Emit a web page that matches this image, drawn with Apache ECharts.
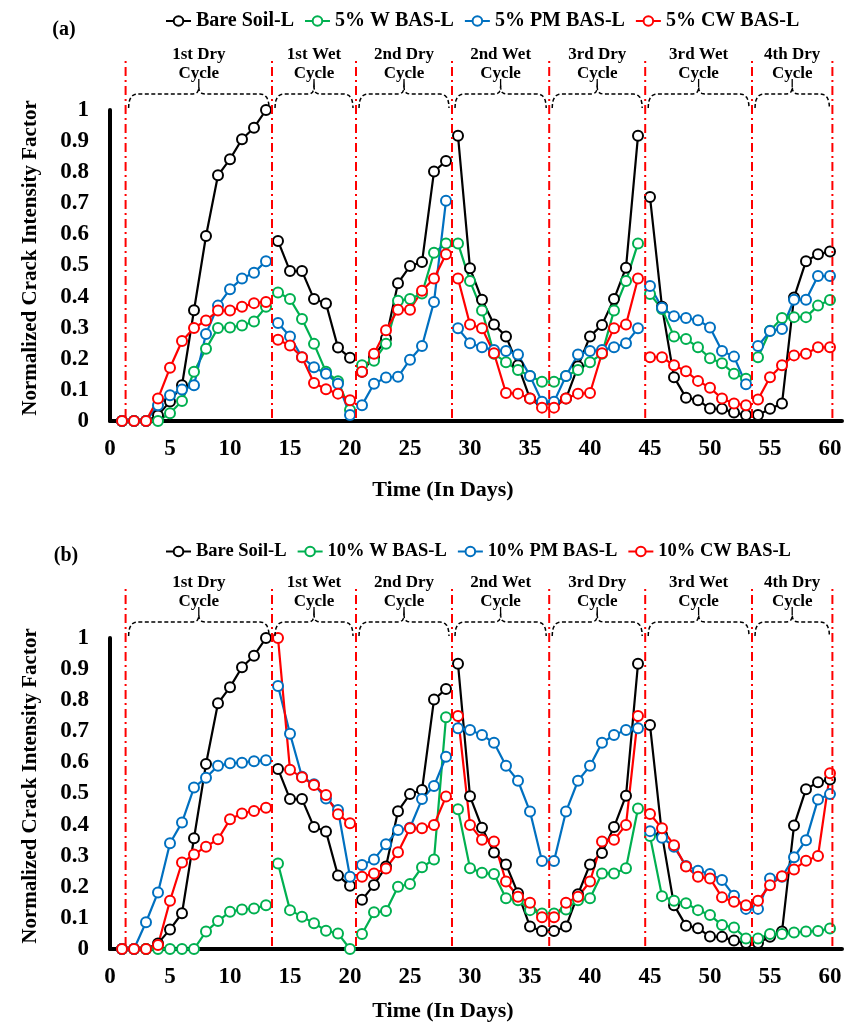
<!DOCTYPE html>
<html><head><meta charset="utf-8">
<script src="https://cdn.jsdelivr.net/npm/echarts@6/dist/echarts.min.js"></script>
<style>html,body{margin:0;padding:0;background:#fff}#c{width:845px;height:1026px}</style>
</head><body><div id="c"></div>
<script>
const days = [1,2,3,4,5,6,7,8,9,10,11,12,13,14,15,16,17,18,19,20,21,22,23,24,25,26,27,28,29,30,31,32,33,34,35,36,37,38,39,40,41,42,43,44,45,46,47,48,49,50,51,52,53,54,55,56,57,58,59,60];
const xTickLabels = [0,5,10,15,20,25,30,35,40,45,50,55,60];
const yTickLabels = ['0','0.1','0.2','0.3','0.4','0.5','0.6','0.7','0.8','0.9','1'];
const cycleBounds = [1.3, 13.5, 20.5, 28.5, 36.6, 44.6, 53.5, 60.2];
const cycleNames = ['1st Dry\nCycle','1st Wet\nCycle','2nd Dry\nCycle','2nd Wet\nCycle','3rd Dry\nCycle','3rd Wet\nCycle','4th Dry\nCycle'];

const bareSoil = [0,0,0,0.018,0.063,0.115,0.356,0.595,0.79,0.842,0.906,0.943,1.0,
 0.579,0.482,0.482,0.392,0.378,0.236,0.203,
 0.158,0.206,0.265,0.443,0.498,0.511,0.802,0.836,
 0.917,0.491,0.39,0.31,0.272,0.179,0.072,0.058,
 0.058,0.072,0.176,0.272,0.309,0.392,0.493,0.917,
 0.72,0.367,0.141,0.075,0.067,0.04,0.039,0.027,0.019,
 0.019,0.039,0.056,0.397,0.514,0.536,0.545];
const w5 = [0,0,0,0,0.025,0.064,0.158,0.232,0.299,0.301,0.307,0.32,0.367,
 0.413,0.392,0.328,0.248,0.158,0.128,0.035,
 0.179,0.194,0.248,0.387,0.392,0.41,0.541,0.571,
 0.571,0.45,0.355,0.216,0.189,0.164,0.145,0.126,
 0.126,0.145,0.164,0.189,0.216,0.355,0.45,0.571,
 0.408,0.36,0.272,0.264,0.237,0.202,0.186,0.152,0.136,
 0.205,0.29,0.331,0.334,0.334,0.371,0.389];
const pm5 = [0,0,0,0.051,0.083,0.101,0.115,0.28,0.371,0.424,0.458,0.477,0.514,
 0.315,0.272,0.205,0.173,0.152,0.12,0.019,
 0.051,0.12,0.14,0.142,0.197,0.241,0.383,0.708,
 0.298,0.25,0.237,0.228,0.225,0.214,0.145,0.062,
 0.062,0.145,0.214,0.225,0.228,0.237,0.25,0.298,
 0.434,0.364,0.337,0.331,0.324,0.301,0.225,0.207,0.118,
 0.241,0.289,0.296,0.39,0.39,0.466,0.466];
const cw5 = [0,0,0,0.072,0.171,0.257,0.299,0.323,0.355,0.355,0.367,0.379,0.383,
 0.261,0.243,0.205,0.122,0.102,0.088,0.067,
 0.158,0.216,0.292,0.358,0.358,0.419,0.458,0.536,
 0.458,0.31,0.298,0.218,0.09,0.088,0.072,0.043,
 0.043,0.072,0.088,0.09,0.218,0.298,0.31,0.458,
 0.205,0.205,0.179,0.16,0.129,0.107,0.072,0.056,0.051,
 0.069,0.141,0.179,0.211,0.216,0.237,0.237];
const w10 = [0,0,0,0,0,0,0,0.056,0.09,0.12,0.127,0.13,0.141,
 0.275,0.125,0.104,0.083,0.059,0.05,0,
 0.048,0.118,0.122,0.2,0.209,0.263,0.288,0.745,
 0.449,0.26,0.245,0.241,0.163,0.157,0.125,0.114,
 0.114,0.127,0.157,0.163,0.243,0.243,0.26,0.452,
 0.363,0.17,0.155,0.147,0.125,0.109,0.077,0.069,0.034,
 0.034,0.048,0.048,0.053,0.056,0.058,0.066];
const pm10 = [0,0,0.086,0.182,0.34,0.407,0.519,0.551,0.589,0.597,0.599,0.604,0.607,
 0.846,0.692,0.554,0.53,0.484,0.447,0.232,
 0.27,0.288,0.337,0.383,0.39,0.482,0.524,0.618,
 0.71,0.704,0.688,0.663,0.589,0.541,0.442,0.283,
 0.283,0.442,0.541,0.589,0.663,0.688,0.704,0.71,
 0.379,0.358,0.329,0.267,0.252,0.241,0.222,0.171,0.129,
 0.129,0.227,0.232,0.295,0.35,0.481,0.498];
const cw10 = [0,0,0,0.013,0.155,0.278,0.304,0.329,0.353,0.417,0.436,0.444,0.454,
 1.0,0.576,0.552,0.527,0.495,0.433,0.404,
 0.232,0.243,0.259,0.311,0.388,0.388,0.399,0.49,
 0.749,0.399,0.351,0.346,0.217,0.168,0.149,0.102,
 0.102,0.149,0.168,0.217,0.346,0.351,0.399,0.749,
 0.434,0.388,0.334,0.265,0.232,0.227,0.166,0.152,0.141,
 0.155,0.205,0.234,0.256,0.284,0.299,0.565];

const namesA = ['Bare Soil-L','5% W BAS-L','5% PM BAS-L','5% CW BAS-L'];
const namesB = ['Bare Soil-L','10% W BAS-L','10% PM BAS-L','10% CW BAS-L'];
const colors = ['#000000','#00B050','#0070C0','#FF0000'];
const FONT = '"Liberation Serif", "Times New Roman", serif';

function withGaps(vals){
  const out = [];
  const inner = cycleBounds.slice(1, -1);
  days.forEach((d, i) => {
    if (i > 0) inner.forEach(b => { if (b > days[i-1] && b < d) out.push([b, '-']); });
    out.push([d, vals[i]]);
  });
  return out;
}
function lineSeries(name, vals, color, gi){
  return {type:'line', name, xAxisIndex:gi, yAxisIndex:gi, data:withGaps(vals),
    symbol:'emptyCircle', symbolSize:10, connectNulls:false, animation:false, z:3,
    lineStyle:{color, width:2.2}, itemStyle:{color, borderColor:color, borderWidth:2},
    emphasis:{disabled:true}};
}
function quad(p0, c, p1, n){
  const pts = [];
  for (let k = 0; k <= n; k++){
    const t = k/n, u = 1-t;
    pts.push([u*u*p0[0]+2*u*t*c[0]+t*t*p1[0], u*u*p0[1]+2*u*t*c[1]+t*t*p1[1]]);
  }
  return pts;
}
function cycleLineSeries(gi){
  return {type:'custom', xAxisIndex:gi, yAxisIndex:gi, clip:false, silent:true, z:6, animation:false,
    data: cycleBounds.map(b => [b, 0]), encode:{x:0, y:1},
    renderItem: (params, api) => {
      const p0 = api.coord([api.value(0), 0]);
      const p1 = api.coord([api.value(0), 1]);
      return {type:'line', shape:{x1:p0[0], y1:p0[1]-3, x2:p0[0], y2:p1[1]-51},
        style:{stroke:'#FF0000', lineWidth:2, lineDash:[9,4,2,4], fill:null}};
    }};
}
function braceSeries(gi){
  return {type:'custom', xAxisIndex:gi, yAxisIndex:gi, clip:false, silent:true, z:6, animation:false,
    data: cycleNames.map((n, i) => [cycleBounds[i], cycleBounds[i+1], 1]), encode:{x:[0,1], y:2},
    renderItem: (params, api) => {
      const a = api.coord([api.value(0), 1]);
      const b = api.coord([api.value(1), 1]);
      const x1 = a[0]+3, x2 = b[0]-3, yb = a[1]-2, yh = a[1]-16, xm = (x1+x2)/2, r = 9;
      let pts = [];
      pts = pts.concat(quad([x1,yb],[x1,yh],[x1+r,yh],6));
      pts = pts.concat(quad([xm-6,yh],[xm,yh],[xm,yh-7],4));
      pts = pts.concat(quad([xm,yh-7],[xm,yh],[xm+6,yh],4));
      pts = pts.concat(quad([x2-r,yh],[x2,yh],[x2,yb],6));
      return {type:'group', children:[
        {type:'polyline', shape:{points:pts}, style:{stroke:'#000', lineWidth:1.5, lineDash:[4,2.5], fill:null}},
        {type:'line', shape:{x1:xm, y1:yh-7, x2:xm, y2:yh-15}, style:{stroke:'#000', lineWidth:1.3}},
        {type:'text', style:{text:cycleNames[params.dataIndex], x:xm, y:a[1]-46,
          textAlign:'center', textVerticalAlign:'middle', align:'center', verticalAlign:'middle',
          font:'bold 17px ' + FONT, lineHeight:19, fill:'#000'}}
      ]};
    }};
}
function xAxisCfg(gi){
  return {type:'value', gridIndex:gi, min:0, max:61, interval:5,
    axisLine:{show:true, onZero:false, lineStyle:{color:'#000', width:4}},
    axisTick:{show:false}, splitLine:{show:false},
    axisLabel:{formatter:v => xTickLabels.includes(v) ? String(v) : '', fontSize:23, fontWeight:'bold',
      fontFamily:FONT, color:'#000', margin:17, showMaxLabel:true}};
}
function yAxisCfg(gi){
  return {type:'value', gridIndex:gi, min:0, max:1, interval:0.1,
    axisLine:{show:true, lineStyle:{color:'#000', width:4}},
    axisTick:{show:false}, splitLine:{show:false},
    axisLabel:{formatter:v => yTickLabels[Math.round(v*10)], fontSize:23, fontWeight:'bold',
      fontFamily:FONT, color:'#000', margin:21}};
}
function legendCfg(names, top, size){
  return {data:names, left:160, top, itemWidth:25, itemHeight:12, itemGap:10, selectedMode:false,
    textStyle:{fontSize:size, fontWeight:'bold', fontFamily:FONT, color:'#000'}};
}
function txt(text, x, y, size, rot){
  return {type:'text', x, y, rotation:rot||0, silent:true,
    style:{text, textAlign:'center', textVerticalAlign:'middle', align:'center', verticalAlign:'middle',
      font:'bold '+size+'px '+FONT, fill:'#000'}};
}

const chart = echarts.init(document.getElementById('c'), null, {renderer:'canvas'});
const series = [];
[bareSoil, w5, pm5, cw5].forEach((v, i) => series.push(lineSeries(namesA[i], v, colors[i], 0)));
[bareSoil, w10, pm10, cw10].forEach((v, i) => series.push(lineSeries(namesB[i], v, colors[i], 1)));
series.push(cycleLineSeries(0), braceSeries(0), cycleLineSeries(1), braceSeries(1));

chart.setOption({
  animation:false,
  backgroundColor:'#fff',
  grid:[{left:110, top:110, width:732, height:311}, {left:110, top:638, width:732, height:311}],
  xAxis:[xAxisCfg(0), xAxisCfg(1)],
  yAxis:[yAxisCfg(0), yAxisCfg(1)],
  legend:[legendCfg(namesA, 6, 20), legendCfg(namesB, 537, 18.5)],
  graphic:[
    txt('(a)', 64, 30, 20), txt('(b)', 66, 556, 20),
    txt('Normalized Crack Intensity Factor', 31, 258, 21, Math.PI/2),
    txt('Normalized Crack Intensity Factor', 31, 786, 21, Math.PI/2),
    txt('Time (In Days)', 443, 490, 22),
    txt('Time (In Days)', 443, 1011, 22)
  ],
  series
});
</script></body></html>
